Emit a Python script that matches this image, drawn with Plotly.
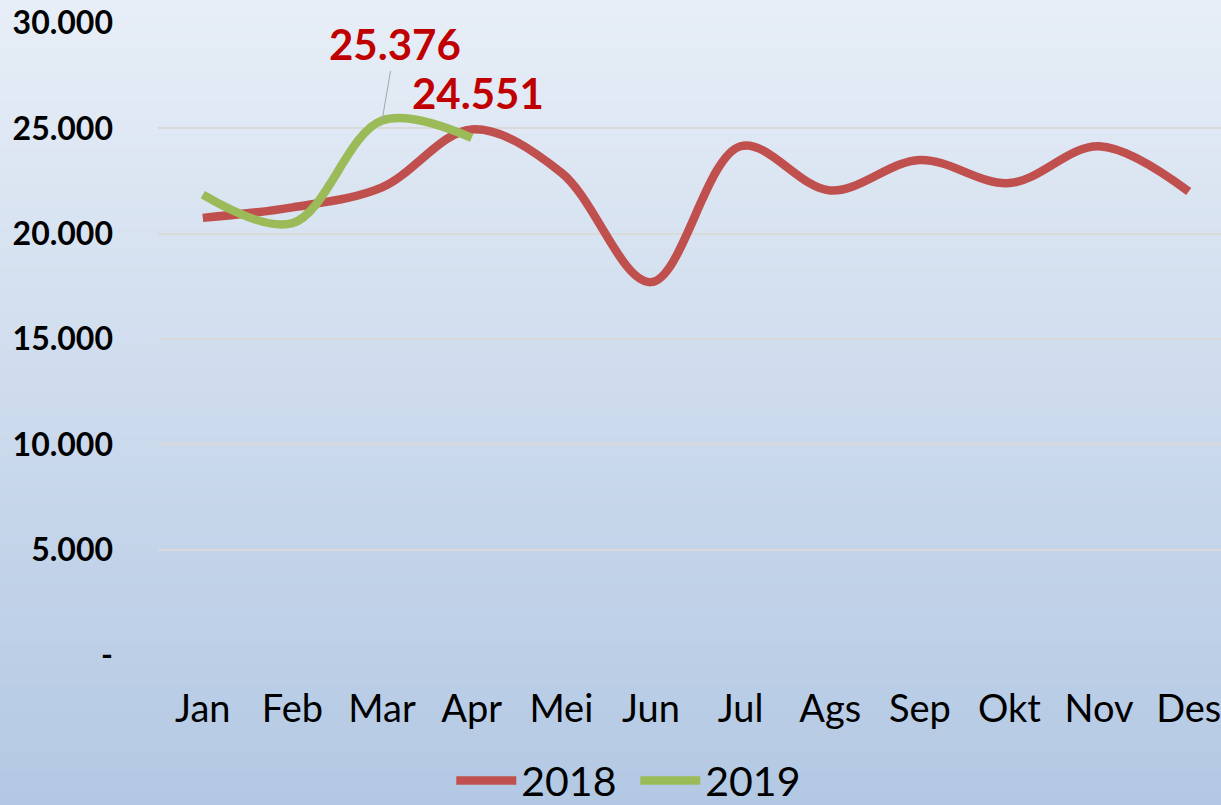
import plotly.graph_objects as go

months = ["Jan", "Feb", "Mar", "Apr", "Mei", "Jun", "Jul", "Ags", "Sep", "Okt", "Nov", "Des"]
v2018 = [20750, 21250, 22200, 24950, 22900, 17700, 24150, 22050, 23500, 22400, 24150, 22000]
v2019 = [21850, 20500, 25376, 24551]
ytick_vals = [0, 5000, 10000, 15000, 20000, 25000, 30000]
ytick_text = ["-", "5.000", "10.000", "15.000", "20.000", "25.000", "30.000"]

RED = "#C0504D"
GREEN = "#9BBB59"
LABEL_RED = "#C00000"


def fmt(v):
    return f"{v:,}".replace(",", ".")


fig = go.Figure()
fig.add_trace(go.Scatter(x=months, y=v2018, name="2018", mode="lines",
                         line=dict(color=RED, width=8.5, shape="spline", smoothing=1)))
fig.add_trace(go.Scatter(x=months[:len(v2019)], y=v2019, name="2019", mode="lines",
                         line=dict(color=GREEN, width=8.5, shape="spline", smoothing=1)))

# gradient background via strips
W, H = 1221, 805
L, R, T, B = 158, 0, 23, 150
pw, ph = W - L - R, H - T - B
top_c = (231, 238, 247)
bot_c = (179, 200, 227)
n = 120
shapes = []
for i in range(n):
    f = i / (n - 1)
    c = tuple(round(top_c[k] + (bot_c[k] - top_c[k]) * f) for k in range(3))
    y_px0 = H * i / n
    y_px1 = H * (i + 1) / n + 1
    shapes.append(dict(type="rect", xref="paper", yref="paper", layer="below",
                       x0=-L / pw, x1=1 + R / pw + 0.01,
                       y0=1 - (y_px1 - T) / ph, y1=1 - (y_px0 - T) / ph,
                       fillcolor=f"rgb{c}", line=dict(width=0)))

annotations = [
    dict(x=months[2], y=v2019[2], text=fmt(v2019[2]), showarrow=True, arrowhead=0,
         arrowwidth=1, arrowcolor="#A6A6A6", ax=13, ay=-76, standoff=0,
         font=dict(family="Lato", size=42, color=LABEL_RED, weight="bold")),
    dict(x=months[3], y=v2019[3], text=fmt(v2019[3]), showarrow=False,
         xshift=6, yshift=45,
         font=dict(family="Lato", size=42, color=LABEL_RED, weight="bold")),
]

fig.update_layout(
    template="none",
    width=W, height=H,
    margin=dict(l=L, r=R, t=T, b=B, autoexpand=False),
    paper_bgcolor="#E7EEF7",
    plot_bgcolor="rgba(0,0,0,0)",
    shapes=shapes,
    annotations=annotations,
    showlegend=True,
    legend=dict(orientation="h", x=0.449, xanchor="center", y=-0.199, yanchor="middle",
                font=dict(family="Lato", size=41, color="black"),
                bgcolor="rgba(0,0,0,0)", itemwidth=60,
                entrywidth=109, entrywidthmode="pixels"),
    xaxis=dict(range=[-0.5, 11.36], showgrid=False, showline=False, zeroline=False,
               ticks="", ticklabelstandoff=28, automargin=False,
               tickfont=dict(family="Lato", size=38, color="black")),
    yaxis=dict(range=[0, 30000], tickvals=ytick_vals, ticktext=ytick_text,
               showgrid=True, gridcolor="#D9D9D9", gridwidth=2, zeroline=False,
               showline=False, ticks="", ticklabelstandoff=44, automargin=False,
               tickfont=dict(family="Lato", size=32, color="black", weight="bold")),
    hovermode=False,
)

fig.write_html("out.html", config={"displayModeBar": False},
               post_script="document.body.style.margin='0';document.body.style.overflow='hidden';")
